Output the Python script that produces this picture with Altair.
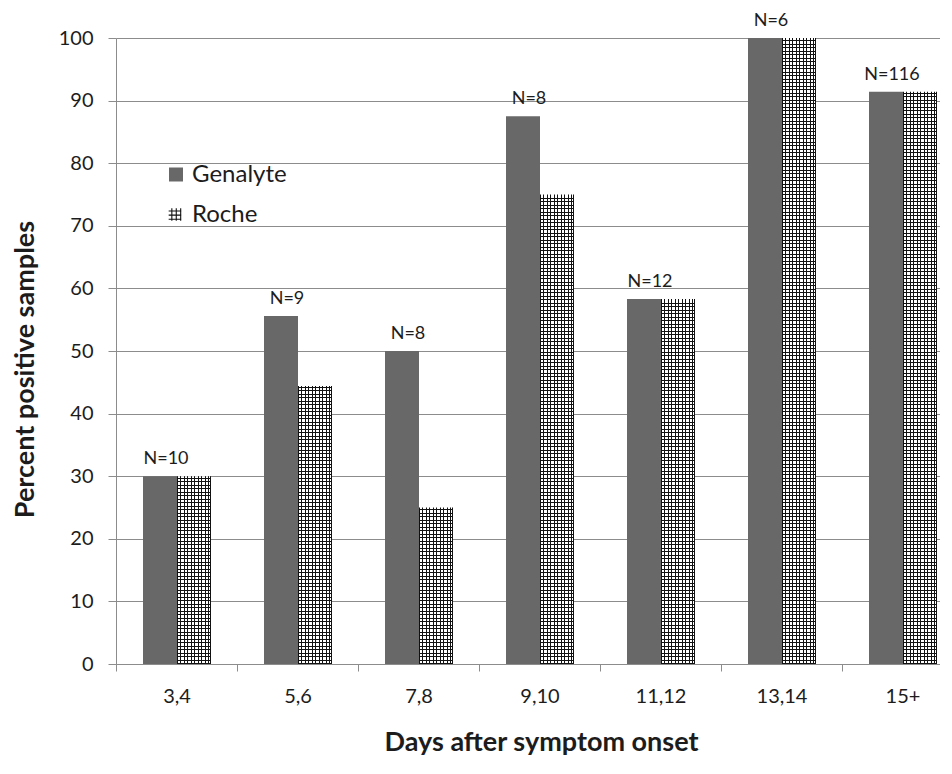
import altair as alt
import pandas as pd

# ---------------- data ----------------
categories = ["3,4", "5,6", "7,8", "9,10", "11,12", "13,14", "15+"]
genalyte = [30.0, 55.6, 50.0, 87.5, 58.3, 100.0, 91.4]
roche = [30.0, 44.4, 25.0, 75.0, 58.3, 100.0, 91.4]
n_labels = ["N=10", "N=9", "N=8", "N=8", "N=12", "N=6", "N=116"]
series = ["Genalyte", "Roche"]

# ---------------- style / layout ----------------
FONT = "Lato"
TEXT = "#1c1c1c"
GRID = "#8c8c8c"
DARK = "#686868"
LINE = "#111111"
PLOT_W = 824
PLOT_H = 626
STEP = 121
X_RANGE = STEP * len(categories)
BAR_W = 34           # width of one bar in px
HATCH_STEPS = [3, 4]  # alternating hatch spacing (px), average 3.5

df = pd.DataFrame({
    "cat": categories * 2,
    "series": [series[0]] * len(categories) + [series[1]] * len(categories),
    "value": genalyte + roche,
})
lab_df = pd.DataFrame({"cat": categories, "value": genalyte, "label": n_labels,
                       "series": [series[0]] * len(categories)})
leg_df = pd.DataFrame({"label": series})


def line_positions(length):
    """pixel offsets (from the anchored edge) of 1px hatch lines"""
    pos, p, i = [], 0, 0
    while p <= length - 1:
        pos.append(p)
        p += HATCH_STEPS[i % 2]
        i += 1
    return pos


def hatch_gradient(length, bg, horizontal):
    stops = []
    pos = line_positions(length)
    if horizontal:
        # vertical lines, anchored at the left edge; add right edge line
        if pos[-1] < length - 1:
            pos.append(length - 1)
        bands = [(p / length, (p + 1) / length) for p in pos]
    else:
        # horizontal lines, anchored at the bottom edge (offset 1)
        bands = sorted(((length - p - 1) / length, (length - p) / length) for p in pos)
    for a, b in bands:
        a = max(0.0, a)
        b = min(1.0, b)
        stops += [{"color": bg, "offset": a}, {"color": LINE, "offset": a},
                  {"color": LINE, "offset": b}, {"color": bg, "offset": b}]
    g = {"gradient": "linear", "stops": stops}
    if horizontal:
        g.update({"x1": 0, "x2": 1, "y1": 0, "y2": 0})
    else:
        g.update({"x1": 0, "x2": 0, "y1": 0, "y2": 1})
    return g


pad_outer = (STEP / BAR_W - 2) / 2

x_enc = alt.X(
    "cat:N", sort=categories,
    scale=alt.Scale(domain=categories, range=[0, X_RANGE], paddingInner=0, paddingOuter=0),
    axis=alt.Axis(
        title="Days after symptom onset", labelAngle=0, tickBand="extent",
        tickSize=7, tickColor=GRID, domainColor=GRID, grid=False,
        labelFont=FONT, labelFontSize=20, labelColor=TEXT, labelPadding=15,
        titleFont=FONT, titleFontSize=27, titleFontWeight="bold", titleColor=TEXT,
        titleX=425, titleY=86, titleAlign="center", titleBaseline="alphabetic",
    ),
)
xo_enc = alt.XOffset("series:N", sort=series,
                     scale=alt.Scale(domain=series, range=[0.5, STEP + 0.5],
                                     paddingInner=0, paddingOuter=pad_outer))
y_enc = alt.Y(
    "value:Q", scale=alt.Scale(domain=[0, 100], nice=False),
    axis=alt.Axis(
        title="Percent positive samples", values=list(range(0, 101, 10)),
        tickSize=8, tickColor=GRID, domainColor=GRID, grid=True, gridColor=GRID,
        labelFont=FONT, labelFontSize=20, labelColor=TEXT, labelPadding=15,
        titleFont=FONT, titleFontSize=27, titleFontWeight="bold", titleColor=TEXT,
        titleAngle=-90, titleX=-83, titleY=331, titleAlign="center",
        titleBaseline="alphabetic",
    ),
)

base = alt.Chart(df).encode(x=x_enc, xOffset=xo_enc, y=y_enc)

gen_layer = base.transform_filter(alt.datum.series == series[0]).mark_bar(color=DARK)

roche_base = base.transform_filter(alt.datum.series == series[1]).mark_bar(
    color=hatch_gradient(BAR_W, "#ffffff", True))

hatch_layers = []
for cat, val in zip(categories, roche):
    h_px = val * PLOT_H / 100.0
    hatch_layers.append(
        base.transform_filter(
            (alt.datum.series == series[1]) & (alt.datum.cat == cat)
        ).mark_bar(color=hatch_gradient(h_px, "rgba(255,255,255,0)", False))
    )

labels = alt.Chart(lab_df).mark_text(
    font=FONT, fontSize=18, color=TEXT, baseline="middle", dy=-17, dx=6
).encode(x=x_enc, xOffset=xo_enc, y=y_enc, text="label:N")

# legend (inside the plot, upper left)
leg_sq = alt.Chart(leg_df).transform_filter(alt.datum.label == series[0]).mark_point(
    shape="square", filled=True, size=196, color=DARK, opacity=1
).encode(x=alt.value(60), y=alt.value(136.5))
HASH = "M-0.5,-1V1M0.2,-1V1M0.9,-1V1M-1,-0.55H1M-1,0.1H1M-1,0.75H1"
leg_hash = alt.Chart(leg_df).transform_filter(alt.datum.label == series[1]).mark_point(
    shape=HASH, filled=False, size=160, stroke=LINE, strokeWidth=1.1, opacity=1
).encode(x=alt.value(59), y=alt.value(176.5))
leg_t1 = alt.Chart(leg_df).transform_filter(alt.datum.label == series[0]).mark_text(
    font=FONT, fontSize=24, color=TEXT, align="left", baseline="middle"
).encode(x=alt.value(76), y=alt.value(136.5), text="label:N")
leg_t2 = alt.Chart(leg_df).transform_filter(alt.datum.label == series[1]).mark_text(
    font=FONT, fontSize=24, color=TEXT, align="left", baseline="middle"
).encode(x=alt.value(76), y=alt.value(176.5), text="label:N")

chart = alt.layer(
    gen_layer, roche_base, *hatch_layers, labels, leg_sq, leg_hash, leg_t1, leg_t2
).properties(
    width=PLOT_W, height=PLOT_H,
    autosize=alt.AutoSizeParams(type="none"),
    padding={"left": 108, "top": 30, "right": 0, "bottom": 94},
    background="white",
).configure_view(stroke=None)

chart.save("out.html", embed_options={"renderer": "svg", "actions": False})
